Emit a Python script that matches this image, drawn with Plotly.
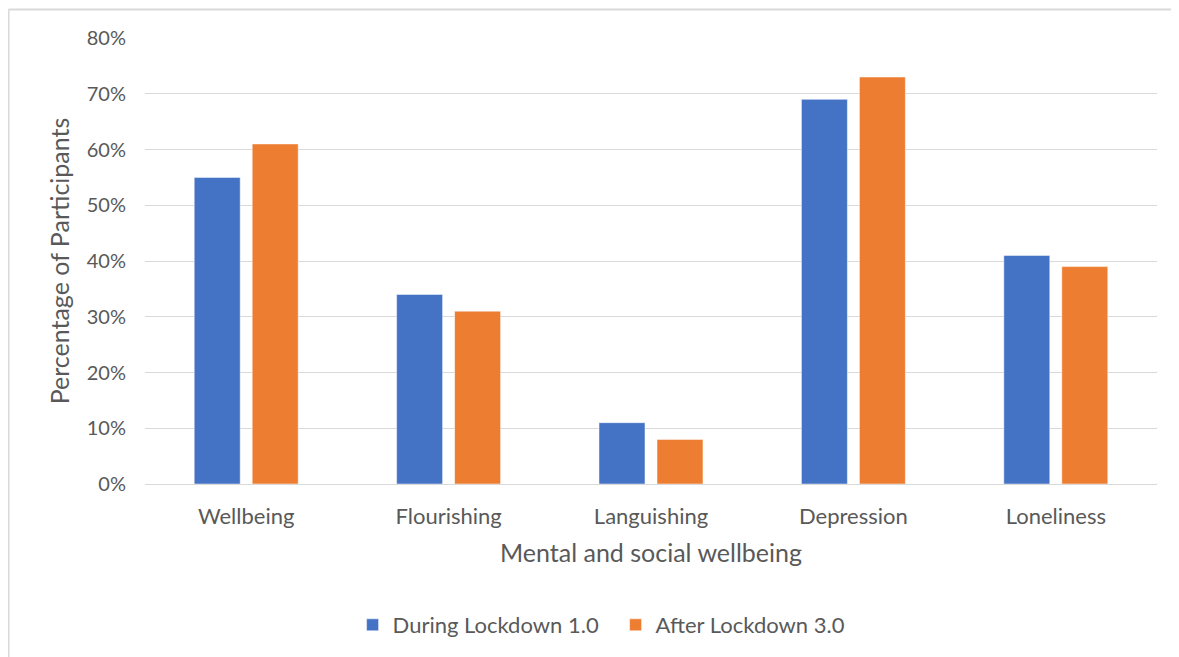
import plotly.graph_objects as go

categories = ["Wellbeing", "Flourishing", "Languishing", "Depression", "Loneliness"]
during_lockdown_1 = [0.55, 0.34, 0.11, 0.69, 0.41]
after_lockdown_3 = [0.61, 0.31, 0.08, 0.73, 0.39]
y_ticks = [0, 0.1, 0.2, 0.3, 0.4, 0.5, 0.6, 0.7, 0.8]

FONT = "Lato"
TXT = "#595959"

L, R, T, B = 137, 30, 30, 181
PW = 1179 - L - R
PH = 657 - T - B

fig = go.Figure()
fig.add_trace(go.Bar(x=categories, y=during_lockdown_1, name="During Lockdown 1.0",
                     marker=dict(color="#4472C4", line=dict(color="#ffffff", width=0.5))))
fig.add_trace(go.Bar(x=categories, y=after_lockdown_3, name="After Lockdown 3.0",
                     marker=dict(color="#ED7D31", line=dict(color="#ffffff", width=0.5))))

fig.update_layout(
    width=1179, height=657,
    margin=dict(l=L, r=R, t=T, b=B),
    paper_bgcolor="white", plot_bgcolor="white",
    barmode="group", bargap=0.427, bargroupgap=0.207,
    font=dict(family=FONT, color=TXT, size=20),
    showlegend=True,
    legend=dict(orientation="h", x=0.465, xanchor="center", y=-141 / PH, yanchor="middle",
                font=dict(size=22, color=TXT), traceorder="normal", itemwidth=30,
                entrywidth=218),
    xaxis=dict(title=dict(text="Mental and social wellbeing", font=dict(size=25, color=TXT), standoff=16),
               tickfont=dict(size=22, color=TXT), showline=True, linecolor="#d9d9d9", linewidth=1,
               ticks="", showgrid=False, ticklabelstandoff=13),
    yaxis=dict(title=dict(text="Percentage of Participants", font=dict(size=25, color=TXT), standoff=10),
               range=[0, 0.8], tickvals=y_ticks, tickformat=".0%",
               tickfont=dict(size=20, color=TXT), gridcolor="#d9d9d9", gridwidth=1,
               zeroline=True, zerolinecolor="#d9d9d9", zerolinewidth=1, ticks="",
               ticklabelstandoff=18),
    shapes=[
        dict(type="line", xref="paper", yref="paper", x0=(0.5 - L) / PW, x1=1.1,
             y0=(PH + T - 1.5) / PH, y1=(PH + T - 1.5) / PH,
             line=dict(color="#d9d9d9", width=2)),
        dict(type="line", xref="paper", yref="paper", x0=(0.5 - L) / PW, x1=(0.5 - L) / PW,
             y0=(PH + T - 1.5) / PH, y1=-0.45,
             line=dict(color="#d9d9d9", width=2)),
    ],
)
fig.write_html("out.html")
